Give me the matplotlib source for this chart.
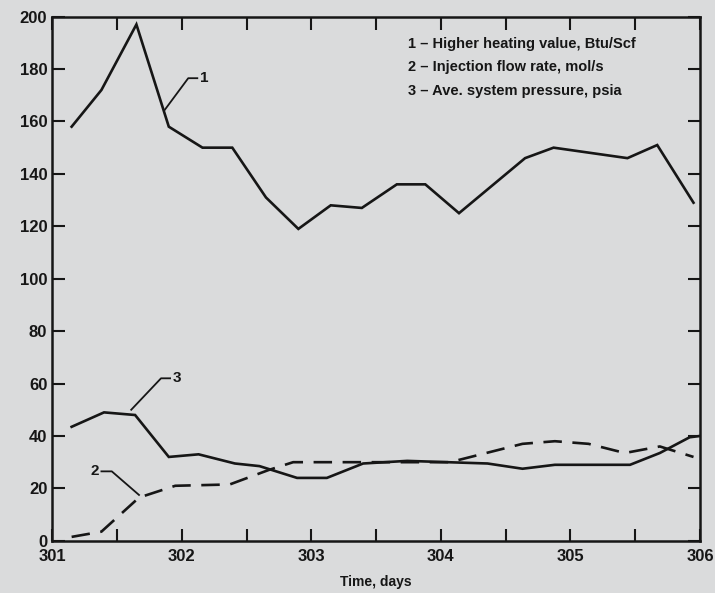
import numpy as np
import matplotlib
matplotlib.use("Agg")
import matplotlib.pyplot as plt
from matplotlib.ticker import MultipleLocator

# curve 1 - higher heating value, Btu/Scf
t1 = [301.15, 301.38, 301.65, 301.90, 302.16, 302.39, 302.65, 302.90, 303.15, 303.39,
      303.66, 303.88, 304.14, 304.65, 304.87, 305.44, 305.67, 305.95]
hhv = [158, 172, 197, 158, 150, 150, 131, 119, 128, 127,
       136, 136, 125, 146, 150, 146, 151, 129]

# curve 2 - injection flow rate, mol/s (dashed)
t2 = [301.15, 301.38, 301.67, 301.95, 302.37, 302.67, 302.86, 303.25, 304.07, 304.23,
      304.63, 304.88, 305.14, 305.42, 305.69, 305.95]
flow = [1.5, 3.5, 16.5, 21, 21.5, 27, 30, 30, 30, 32,
        37, 38, 37, 33.5, 36, 32]

# curve 3 - average system pressure, psia
t3 = [301.15, 301.40, 301.64, 301.90, 302.13, 302.41, 302.60, 302.89, 303.12, 303.40,
      303.74, 304.36, 304.63, 304.88, 305.46, 305.69, 305.92, 306.0]
pres = [43.5, 49, 48, 32, 33, 29.5, 28.5, 24, 24, 29.5,
        30.5, 29.5, 27.5, 29, 29, 33.5, 39.5, 40]

legend_lines = ["1 \u2013 Higher heating value, Btu/Scf",
                "2 \u2013 Injection flow rate, mol/s",
                "3 \u2013 Ave. system pressure, psia"]

bg = "#dadbdc"
ink = "#161616"
plt.rcParams['font.family'] = ['Liberation Sans', 'DejaVu Sans']

fig = plt.figure(figsize=(7.15, 5.93), dpi=100, facecolor=bg)
ax = fig.add_axes([0.073, 0.088, 0.906, 0.884], facecolor=bg)

ax.plot(t1, hhv, color=ink, lw=1.9, solid_joinstyle='miter')
ax.plot(t2, flow, color=ink, lw=1.9, dashes=(7, 4))
ax.plot(t3, pres, color=ink, lw=1.9, solid_joinstyle='miter')

# leader lines with curve numbers
ax.plot([301.87, 302.05, 302.12], [164.5, 176.5, 176.5], color=ink, lw=1.3)
ax.text(302.14, 176.5, "1", fontsize=11, fontweight='bold', va='center', color=ink)
ax.plot([301.61, 301.84, 301.91], [50, 62, 62], color=ink, lw=1.3)
ax.text(301.93, 62, "3", fontsize=11, fontweight='bold', va='center', color=ink)
ax.plot([301.38, 301.46, 301.67], [26.5, 26.5, 17.5], color=ink, lw=1.3)
ax.text(301.36, 26.5, "2", fontsize=11, fontweight='bold', va='center', ha='right', color=ink)

# legend text
for i, s in enumerate(legend_lines):
    ax.text(0.549, 0.947 - i * 0.044, s, transform=ax.transAxes, fontsize=10.5,
            fontweight='bold', va='center', ha='left', color=ink)

ax.set_xlim(301, 306)
ax.set_ylim(0, 200)
ax.xaxis.set_major_locator(MultipleLocator(1))
ax.xaxis.set_minor_locator(MultipleLocator(0.5))
ax.yaxis.set_major_locator(MultipleLocator(20))
ax.tick_params(which='both', direction='in', top=True, right=True, length=9, width=1.5,
               color=ink, labelsize=12, labelcolor=ink)
ax.tick_params(axis='x', pad=6)
for lab in ax.get_xticklabels() + ax.get_yticklabels():
    lab.set_fontweight('bold')
for sp in ax.spines.values():
    sp.set_linewidth(1.8)
    sp.set_color(ink)

ax.set_xlabel("Time, days", fontsize=10, fontweight='bold', color=ink, labelpad=8)

fig.savefig("out.png", dpi=100, facecolor=bg)
